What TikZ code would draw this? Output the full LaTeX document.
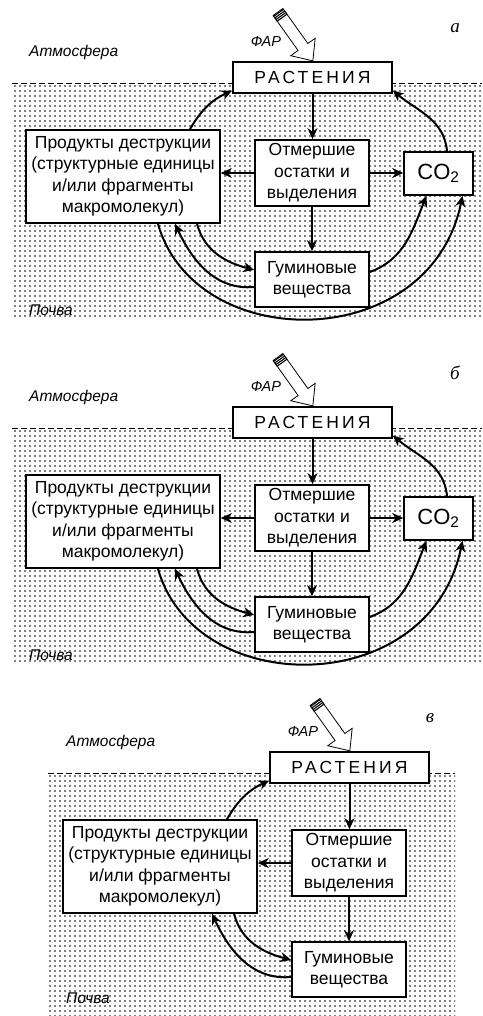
\documentclass[tikz,border=0pt]{standalone}
\usepackage{fontspec}
\setmainfont{Liberation Sans}
\newfontfamily\letterfont{Liberation Serif}
\usetikzlibrary{arrows.meta,patterns.meta}
\tikzset{
  cbox/.style={draw,line width=1.6pt,fill=white,inner sep=0pt,align=center,
    font=\fontsize{17.5}{21.5}\selectfont},
  cflow/.style={-{Stealth[length=11pt,width=10pt,inset=3.5pt]},line width=2pt},
  cthin/.style={cflow,line width=1.3pt},
  csoil/.style={pattern={Dots[distance=5pt,radius=0.85pt]},pattern color=black},
  cline/.style={dash pattern=on 6pt off 3pt,line width=0.9pt},
  czone/.style={font=\fontsize{15.5}{17}\selectfont\itshape,anchor=west,inner sep=0pt},
  cpanel/.style={font=\fontsize{19}{20}\letterfont\itshape,inner sep=0pt},
  cplants/.style={cbox,minimum width=159pt,minimum height=31pt,
    font=\fontsize{17.5}{20}\selectfont\addfontfeature{LetterSpace=18}},
  clight/.style={draw,fill=white,line width=0.8pt,line join=miter}
}

\begin{document}
\begin{tikzpicture}[x=1pt,y=-1pt]
  \useasboundingbox (0,0) rectangle (482,1016);

  % panel a
  \fill[csoil] (12,83) rectangle (482,317);
  \draw[cline] (12,83) -- (482,83);
  \node[cpanel] (a-letter) at (455,28) {а};
  \node[czone] (a-atm) at (29,52) {Атмосфера};
  \node[czone] (a-soil) at (29,310) {Почва};
  \node[font=\fontsize{14.5}{16}\selectfont\itshape] (a-par) at (266,42) {ФАР};
  \begin{scope}[shift={(278,12)},rotate=-54.5]
    \draw[clight] (0,-6) -- (43,-6) -- (43,-15) -- (60,0) -- (43,15) -- (43,6) -- (0,6) -- cycle;
    \foreach \s in {1,3,5,7} \draw[line width=1.1pt] (\s,-6.5) -- (\s,6.5);
  \end{scope}
  \node[cplants] (a-plants) at (312.5,77.5) {РАСТЕНИЯ};
  \node[cbox,minimum width=194pt,minimum height=93pt] (a-prod) at (123,176.5) {Продукты деструкции\\(структурные единицы\\и/или фрагменты\\макромолекул)};
  \node[cbox,minimum width=114pt,minimum height=66pt] (a-dead) at (312,173) {Отмершие\\остатки и\\выделения};
  \node[cbox,minimum width=69pt,minimum height=43pt,font=\fontsize{22}{24}\selectfont] (a-co2) at (438.5,173.5) {CO\textsubscript{2}};
  \node[cbox,minimum width=114pt,minimum height=55pt] (a-hum) at (312,279.5) {Гуминовые\\вещества};
  \draw[cflow] (a-plants.south) -- (a-plants.south |- a-dead.north);
  \draw[cflow] (a-dead.south) -- (a-dead.south |- a-hum.north);
  \draw[cthin] (a-dead.west) -- (a-dead.west -| a-prod.east);
  \draw[cflow] (a-dead.east) -- (a-dead.east -| a-co2.west);
  \draw[cflow] ([xshift=67pt]a-prod.north) to[out=60,in=205] ([yshift=-13pt]a-plants.west);
  \draw[cflow] ([xshift=8.5pt]a-co2.north) to[out=95,in=-40] ([yshift=-13pt]a-plants.east);
  \draw[cflow] ([xshift=74pt]a-prod.south) to[out=-75,in=165] ([yshift=9.5pt]a-hum.west);
  \draw[cflow] ([yshift=-7.5pt]a-hum.west) to[out=185,in=-65] ([xshift=52pt]a-prod.south);
  \draw[cflow] ([yshift=7.5pt]a-hum.east) to[out=20,in=-112] ([xshift=-12pt]a-co2.south);
  \draw[cflow] ([xshift=35pt]a-prod.south) .. controls (195,355) and (430,355) .. ([xshift=24pt]a-co2.south);

  % panel b
  \begin{scope}[shift={(0,345)}]
    \fill[csoil] (12,83) rectangle (482,317);
    \draw[cline] (12,83) -- (482,83);
    \node[cpanel] (b-letter) at (455,28) {б};
    \node[czone] (b-atm) at (29,52) {Атмосфера};
    \node[czone] (b-soil) at (29,310) {Почва};
    \node[font=\fontsize{14.5}{16}\selectfont\itshape] (b-par) at (266,42) {ФАР};
    \begin{scope}[shift={(278,12)},rotate=-54.5]
      \draw[clight] (0,-6) -- (43,-6) -- (43,-15) -- (60,0) -- (43,15) -- (43,6) -- (0,6) -- cycle;
      \foreach \s in {1,3,5,7} \draw[line width=1.1pt] (\s,-6.5) -- (\s,6.5);
    \end{scope}
    \node[cplants] (b-plants) at (312.5,77.5) {РАСТЕНИЯ};
    \node[cbox,minimum width=194pt,minimum height=93pt] (b-prod) at (123,176.5) {Продукты деструкции\\(структурные единицы\\и/или фрагменты\\макромолекул)};
    \node[cbox,minimum width=114pt,minimum height=66pt] (b-dead) at (312,173) {Отмершие\\остатки и\\выделения};
    \node[cbox,minimum width=69pt,minimum height=43pt,font=\fontsize{22}{24}\selectfont] (b-co2) at (438.5,173.5) {CO\textsubscript{2}};
    \node[cbox,minimum width=114pt,minimum height=55pt] (b-hum) at (312,279.5) {Гуминовые\\вещества};
    \draw[cflow] (b-plants.south) -- (b-plants.south |- b-dead.north);
    \draw[cflow] (b-dead.south) -- (b-dead.south |- b-hum.north);
    \draw[cthin] (b-dead.west) -- (b-dead.west -| b-prod.east);
    \draw[cflow] (b-dead.east) -- (b-dead.east -| b-co2.west);
    \draw[cflow] ([xshift=8.5pt]b-co2.north) to[out=95,in=-40] ([yshift=-13pt]b-plants.east);
    \draw[cflow] ([xshift=74pt]b-prod.south) to[out=-75,in=165] ([yshift=9.5pt]b-hum.west);
    \draw[cflow] ([yshift=-7.5pt]b-hum.west) to[out=185,in=-65] ([xshift=52pt]b-prod.south);
    \draw[cflow] ([yshift=7.5pt]b-hum.east) to[out=20,in=-112] ([xshift=-12pt]b-co2.south);
    \draw[cflow] ([xshift=35pt]b-prod.south) .. controls (195,355) and (430,355) .. ([xshift=24pt]b-co2.south);
  \end{scope}

  % panel c
  \begin{scope}[shift={(37,690)}]
    \fill[csoil] (11,83) rectangle (418,326);
    \draw[cline] (11,83) -- (418,83);
    \node[cpanel] (c-letter) at (393,28) {в};
    \node[czone] (c-atm) at (29,52) {Атмосфера};
    \node[czone] (c-soil) at (29,308) {Почва};
    \node[font=\fontsize{14.5}{16}\selectfont\itshape] (c-par) at (266,42) {ФАР};
    \begin{scope}[shift={(278,12)},rotate=-54.5]
      \draw[clight] (0,-6) -- (43,-6) -- (43,-15) -- (60,0) -- (43,15) -- (43,6) -- (0,6) -- cycle;
      \foreach \s in {1,3,5,7} \draw[line width=1.1pt] (\s,-6.5) -- (\s,6.5);
    \end{scope}
    \node[cplants] (c-plants) at (312.5,77.5) {РАСТЕНИЯ};
    \node[cbox,minimum width=194pt,minimum height=93pt] (c-prod) at (123,176.5) {Продукты деструкции\\(структурные единицы\\и/или фрагменты\\макромолекул)};
    \node[cbox,minimum width=114pt,minimum height=66pt] (c-dead) at (312,173) {Отмершие\\остатки и\\выделения};
    \node[cbox,minimum width=114pt,minimum height=55pt] (c-hum) at (312,279.5) {Гуминовые\\вещества};
    \draw[cflow] (c-plants.south) -- (c-plants.south |- c-dead.north);
    \draw[cflow] (c-dead.south) -- (c-dead.south |- c-hum.north);
    \draw[cthin] (c-dead.west) -- (c-dead.west -| c-prod.east);
    \draw[cflow] ([xshift=67pt]c-prod.north) to[out=60,in=205] ([yshift=-13pt]c-plants.west);
    \draw[cflow] ([xshift=74pt]c-prod.south) to[out=-75,in=165] ([yshift=9.5pt]c-hum.west);
    \draw[cflow] ([yshift=-7.5pt]c-hum.west) to[out=185,in=-65] ([xshift=52pt]c-prod.south);
  \end{scope}
\end{tikzpicture}
\end{document}
